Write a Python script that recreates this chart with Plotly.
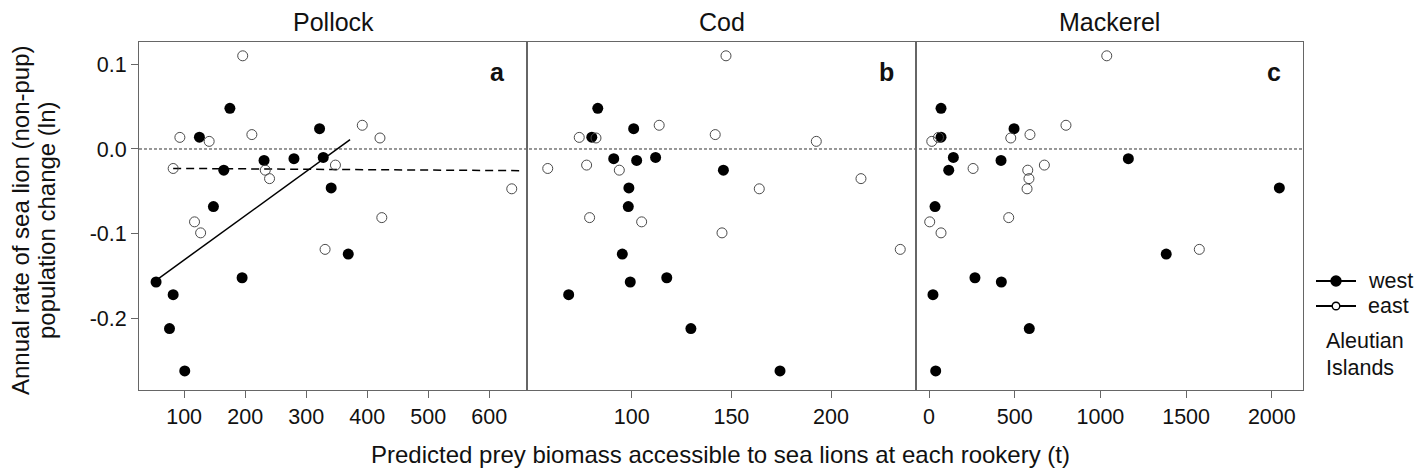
import plotly.graph_objects as go

# Annual rate of non-pup population change (ln) per rookery
west_rate = [0.048, 0.024, 0.014, -0.010, -0.0115, -0.0135, -0.025, -0.046,
             -0.068, -0.124, -0.152, -0.157, -0.172, -0.212, -0.262]
east_rate = [0.110, 0.028, 0.017, 0.0137, 0.013, 0.009, -0.019, -0.023,
             -0.025, -0.035, -0.047, -0.081, -0.086, -0.099, -0.1185]

# Predicted prey biomass accessible at each rookery (t)
west_pollock = [175, 322, 125, 328, 280, 231, 165, 341, 148, 369, 195, 54, 82, 76, 101]
west_cod = [83, 101, 80, 112, 91, 102.5, 146, 98.6, 98.3, 95.3, 117.6, 99.3, 68.4, 129.7, 174.4]
west_mackerel = [70, 496, 70, 142, 1163, 420, 115, 2044, 35, 1384, 268, 422, 23, 585, 39]

east_pollock = [196, 392, 211, 93, 421, 141, 348, 82, 233, 240, 637, 424, 117, 127, 331]
east_cod = [147.3, 113.8, 141.9, 73.7, 82.1, 192.6, 77.4, 57.9, 93.8, 215, 164, 78.9, 105, 145.3, 234.7]
east_mackerel = [1037, 799, 589, 55, 477, 16, 673, 257, 576, 583, 572, 465, 4, 70, 1577]

# Fitted lines for pollock (west: solid, east: dashed)
west_fit_x = [54, 372]
west_fit_y = [-0.155, 0.011]
east_fit_x = [82, 651]
east_fit_y = [-0.0229, -0.0256]

panel_titles = ["Pollock", "Cod", "Mackerel"]
panel_letters = ["a", "b", "c"]
x_ranges = [[26, 662], [47.5, 242.6], [-76, 2182]]
x_ticks = [[100, 200, 300, 400, 500, 600], [100, 150, 200], [0, 500, 1000, 1500, 2000]]
y_ticks = [0.1, 0.0, -0.1, -0.2]
y_ticktext = ["0.1", "0.0", "-0.1", "-0.2"]
y_range = [-0.2845, 0.1263]
legend_names = ["west", "east"]

W, H = 1427, 476
ML, MR, MT, MB = 139, 124, 42, 86
PW = W - ML - MR
PH = H - MT - MB
FONT = "Liberation Sans, Arial, sans-serif"
INK = "#111"
TICK_SIZE = 21.5
TITLE_SIZE = 25
LABEL_SIZE = 24


def px_x(p):
    return (p - ML) / PW


def px_y(p):
    return 1 - (p - MT) / PH


fig = go.Figure()

west_sets = [west_pollock, west_cod, west_mackerel]
east_sets = [east_pollock, east_cod, east_mackerel]

for i in range(3):
    xa = "x" if i == 0 else f"x{i + 1}"
    ya = "y" if i == 0 else f"y{i + 1}"
    if i == 0:
        fig.add_trace(go.Scatter(x=west_fit_x, y=west_fit_y, mode="lines",
                                 line=dict(color="black", width=1.5),
                                 xaxis=xa, yaxis=ya, showlegend=False, hoverinfo="skip"))
        fig.add_trace(go.Scatter(x=east_fit_x, y=east_fit_y, mode="lines",
                                 line=dict(color="black", width=1.5, dash="8px,5px"),
                                 xaxis=xa, yaxis=ya, showlegend=False, hoverinfo="skip"))
    fig.add_trace(go.Scatter(x=west_sets[i], y=west_rate, mode="markers",
                             marker=dict(symbol="circle", size=11, color="black"),
                             xaxis=xa, yaxis=ya, showlegend=False))
    fig.add_trace(go.Scatter(x=east_sets[i], y=east_rate, mode="markers",
                             marker=dict(symbol="circle-open", size=10, color="#4a4a4a",
                                         line=dict(width=1)),
                             xaxis=xa, yaxis=ya, showlegend=False))

bounds = [0, 388 / PW, 777 / PW, 1.0]
frame = "#666"
axis_common = dict(showline=True, mirror=True, linecolor=frame, linewidth=1,
                   showgrid=False, zeroline=False)

layout = dict(
    width=W, height=H,
    margin=dict(l=ML, r=MR, t=MT, b=MB),
    plot_bgcolor="white", paper_bgcolor="white",
    font=dict(family=FONT, size=TICK_SIZE, color=INK),
    showlegend=False,
)

for i in range(3):
    xk = "xaxis" if i == 0 else f"xaxis{i + 1}"
    yk = "yaxis" if i == 0 else f"yaxis{i + 1}"
    xa_anchor = "y" if i == 0 else f"y{i + 1}"
    ya_anchor = "x" if i == 0 else f"x{i + 1}"
    layout[xk] = dict(domain=[bounds[i], bounds[i + 1]], range=x_ranges[i],
                      anchor=xa_anchor, tickvals=x_ticks[i], ticks="outside",
                      ticklen=7, tickcolor=frame, tickfont=dict(size=TICK_SIZE, color=INK),
                      **axis_common)
    if i == 0:
        layout[yk] = dict(domain=[0, 1], range=y_range, anchor=ya_anchor,
                          tickvals=y_ticks, ticktext=y_ticktext, ticks="outside",
                          ticklen=7, tickcolor=frame, tickfont=dict(size=TICK_SIZE, color=INK),
                          **axis_common)
    else:
        layout[yk] = dict(domain=[0, 1], range=y_range, anchor=ya_anchor,
                          matches="y", showticklabels=False, ticks="", **axis_common)

fig.update_layout(**layout)

# zero reference line across all panels
fig.add_shape(type="line", xref="paper", yref="y", x0=0, x1=1, y0=0, y1=0,
              line=dict(color="#333", width=1, dash="3px,2px"), layer="below")

centers = [(bounds[i] + bounds[i + 1]) / 2 for i in range(3)]
for i in range(3):
    fig.add_annotation(text=panel_titles[i], xref="paper", yref="paper",
                       x=centers[i], y=px_y(22), xanchor="center", yanchor="middle",
                       showarrow=False, font=dict(size=TITLE_SIZE, color=INK))
    fig.add_annotation(text=f"<b>{panel_letters[i]}</b>", xref="paper", yref="paper",
                       x=bounds[i + 1] - 20 / PW, y=px_y(72), xanchor="right",
                       yanchor="middle", showarrow=False, font=dict(size=TITLE_SIZE, color=INK))

fig.add_annotation(text="Annual rate of sea lion (non-pup)",
                   xref="paper", yref="paper", x=px_x(20), y=px_y(220),
                   xanchor="center", yanchor="middle", textangle=-90, showarrow=False,
                   font=dict(size=LABEL_SIZE, color=INK))
fig.add_annotation(text="population change (ln)",
                   xref="paper", yref="paper", x=px_x(46), y=px_y(220),
                   xanchor="center", yanchor="middle", textangle=-90, showarrow=False,
                   font=dict(size=LABEL_SIZE, color=INK))
fig.add_annotation(text="Predicted prey biomass accessible to sea lions at each rookery (t)",
                   xref="paper", yref="paper", x=px_x(720), y=px_y(455),
                   xanchor="center", yanchor="middle", showarrow=False,
                   font=dict(size=LABEL_SIZE, color=INK))

# legend key: rookery groups of the Aleutian Islands
key_rows = [281, 306]
key_symbols = [dict(fill="black", line="black", r=5), dict(fill="white", line="black", r=3.8)]
for name, row, sym in zip(legend_names, key_rows, key_symbols):
    fig.add_shape(type="line", xref="paper", yref="paper",
                  x0=px_x(1316), x1=px_x(1356), y0=px_y(row), y1=px_y(row),
                  line=dict(color="black", width=2))
    fig.add_shape(type="circle", xref="paper", yref="paper",
                  x0=px_x(1336 - sym["r"]), x1=px_x(1336 + sym["r"]),
                  y0=px_y(row + sym["r"]), y1=px_y(row - sym["r"]),
                  fillcolor=sym["fill"], line=dict(color=sym["line"], width=1.4))
    fig.add_annotation(text=name, xref="paper", yref="paper",
                       x=px_x(1366), y=px_y(row), xanchor="left", yanchor="middle",
                       showarrow=False, font=dict(size=TICK_SIZE, color=INK))
fig.add_annotation(text="Aleutian", xref="paper", yref="paper",
                   x=px_x(1324), y=px_y(341), xanchor="left", yanchor="middle",
                   showarrow=False, font=dict(size=TICK_SIZE, color=INK))
fig.add_annotation(text="Islands", xref="paper", yref="paper",
                   x=px_x(1324), y=px_y(368), xanchor="left", yanchor="middle",
                   showarrow=False, font=dict(size=TICK_SIZE, color=INK))

fig.write_html("out.html")
